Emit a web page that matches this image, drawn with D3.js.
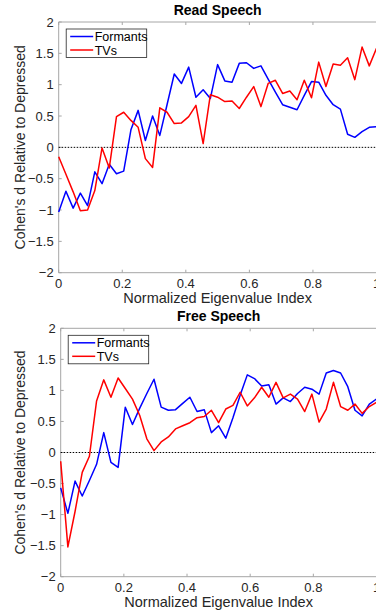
<!DOCTYPE html>
<html>
<head>
<meta charset="utf-8">
<script src="https://cdn.jsdelivr.net/npm/d3@7"></script>
<style>
  body { margin: 0; background: #fff; }
  svg { display: block; font-family: "Liberation Sans", Arial, sans-serif; }
</style>
</head>
<body>
<svg id="vis" width="376" height="615"></svg>
<script>
// 45 eigenvalue positions, x = i / 44
const nPoints = 45
const xTicks = [0, 0.2, 0.4, 0.6, 0.8, 1]
const yTicks = [-2, -1.5, -1, -0.5, 0, 0.5, 1, 1.5, 2]
const seriesNames = ['Formants', 'TVs']
const seriesColors = ['#0000ff', '#ff0000']

const readFormants = [
  -1.03, -0.70, -0.97, -0.73, -0.93, -0.39, -0.58, -0.27, -0.42, -0.38,
  0.28, 0.59, 0.11, 0.50, 0.19, 0.68, 1.17, 1.02, 1.28, 0.80,
  0.92, 0.78, 1.32, 1.06, 1.04, 1.34, 1.35, 1.26, 1.30, 1.09,
  0.88, 0.68, 0.64, 0.60, 0.83, 1.05, 1.04, 0.83, 0.68, 0.61,
  0.21, 0.16, 0.25, 0.32, 0.33
]
const readTVs = [
  -0.15, -0.43, -0.71, -1.01, -1.00, -0.69, -0.01, -0.33, 0.49, 0.56,
  0.43, 0.32, -0.18, -0.32, 0.63, 0.56, 0.38, 0.39, 0.49, 0.67,
  0.06, 0.84, 0.80, 0.73, 0.74, 0.62, 0.80, 0.97, 0.65, 1.02,
  1.07, 0.86, 0.90, 0.76, 1.07, 0.79, 1.36, 0.97, 1.33, 1.31,
  1.43, 1.08, 1.60, 1.30, 1.58
]
const freeFormants = [
  -0.57, -0.98, -0.46, -0.70, -0.45, -0.19, 0.32, -0.16, -0.24, 0.73,
  0.45, 0.71, 0.95, 1.18, 0.73, 0.68, 0.69, 0.79, 0.89, 0.66,
  0.69, 0.32, 0.43, 0.23, 0.56, 0.92, 1.25, 1.19, 1.07, 1.09,
  0.78, 0.88, 0.82, 0.95, 1.05, 1.02, 0.94, 1.28, 1.32, 1.28,
  1.06, 0.68, 0.59, 0.78, 0.86
]
const freeTVs = [
  -0.14, -1.52, -0.95, -0.32, -0.06, 0.83, 1.17, 0.89, 1.20, 1.03,
  0.86, 0.60, 0.22, 0.03, 0.17, 0.25, 0.38, 0.43, 0.48, 0.56,
  0.58, 0.68, 0.48, 0.70, 0.76, 0.97, 0.75, 0.88, 1.05, 0.89,
  1.13, 0.88, 0.94, 0.86, 0.66, 0.94, 0.49, 0.70, 1.13, 0.74,
  0.68, 0.78, 0.63, 0.74, 0.81
]

const svg = d3.select('#vis')

panel({ title: 'Read Speech', top: 22, bottom: 272.7, left: 58.7, series: [readFormants, readTVs] })
panel({ title: 'Free Speech', top: 328.3, bottom: 576.7, left: 60.7, series: [freeFormants, freeTVs] })

function panel(cfg) {
  const right = 376.5
  const x = d3.scaleLinear().domain([0, 1]).range([cfg.left, right])
  const y = d3.scaleLinear().domain([-2, 2]).range([cfg.bottom, cfg.top])
  const g = svg.append('g')
  const axisColor = '#a6a6a6'
  const textColor = '#262626'

  // box (top + left + bottom, right edge falls off the picture)
  g.append('path')
    .attr('d', `M${right},${cfg.top}H${cfg.left}V${cfg.bottom}H${right}`)
    .attr('fill', 'none')
    .attr('stroke', axisColor)
    .attr('stroke-width', 1)

  const tickLen = 3
  g.selectAll('.xt').data(xTicks).enter().append('path')
    .attr('d', d => `M${x(d)},${cfg.bottom}v${-tickLen}M${x(d)},${cfg.top}v${tickLen}`)
    .attr('stroke', axisColor)
  g.selectAll('.yt').data(yTicks).enter().append('path')
    .attr('d', d => `M${cfg.left},${y(d)}h${tickLen}`)
    .attr('stroke', axisColor)

  g.selectAll('.xl').data(xTicks).enter().append('text')
    .attr('x', d => x(d))
    .attr('y', cfg.bottom + 15)
    .attr('text-anchor', 'middle')
    .attr('font-size', 13)
    .attr('fill', textColor)
    .text(d => d3.format('')(d))
  g.selectAll('.yl').data(yTicks).enter().append('text')
    .attr('x', cfg.left - 5)
    .attr('y', d => y(d) + 4.5)
    .attr('text-anchor', 'end')
    .attr('font-size', 13)
    .attr('fill', textColor)
    .text(d => d3.format('')(d))

  g.append('text')
    .attr('x', (cfg.left + right) / 2)
    .attr('y', cfg.top - 7)
    .attr('text-anchor', 'middle')
    .attr('font-size', 14)
    .attr('font-weight', 'bold')
    .attr('fill', '#000')
    .text(cfg.title)
  g.append('text')
    .attr('x', (cfg.left + right) / 2)
    .attr('y', cfg.bottom + 30)
    .attr('text-anchor', 'middle')
    .attr('font-size', 14.5)
    .attr('fill', textColor)
    .text('Normalized Eigenvalue Index')
  g.append('text')
    .attr('transform', `translate(25,${(cfg.top + cfg.bottom) / 2}) rotate(-90)`)
    .attr('text-anchor', 'middle')
    .attr('font-size', 14)
    .attr('fill', textColor)
    .text("Cohen's d Relative to Depressed")

  // zero reference
  g.append('line')
    .attr('x1', x(0)).attr('x2', x(1))
    .attr('y1', y(0)).attr('y2', y(0))
    .attr('stroke', '#000')
    .attr('stroke-width', 1)
    .attr('stroke-dasharray', '1.5,1.5')

  const line = d3.line()
    .x((d, i) => x(i / (nPoints - 1)))
    .y(d => y(d))
  cfg.series.forEach((s, k) => {
    g.append('path')
      .datum(s)
      .attr('d', line)
      .attr('fill', 'none')
      .attr('stroke', seriesColors[k])
      .attr('stroke-width', 1.5)
      .attr('stroke-linejoin', 'round')
  })

  // legend
  const lx = cfg.left + 7.5, ly = cfg.top + 7
  const leg = g.append('g')
  leg.append('rect')
    .attr('x', lx).attr('y', ly)
    .attr('width', 80.5).attr('height', 28.5)
    .attr('fill', '#fff')
    .attr('stroke', '#262626')
    .attr('stroke-width', 0.8)
  seriesNames.forEach((name, k) => {
    const cy = ly + 7.5 + k * 13.5
    leg.append('line')
      .attr('x1', lx + 4).attr('x2', lx + 27)
      .attr('y1', cy).attr('y2', cy)
      .attr('stroke', seriesColors[k])
      .attr('stroke-width', 1.5)
    leg.append('text')
      .attr('x', lx + 28.5)
      .attr('y', cy + 4.5)
      .attr('font-size', 12.5)
      .attr('fill', '#000')
      .text(name)
  })
}
</script>
</body>
</html>
